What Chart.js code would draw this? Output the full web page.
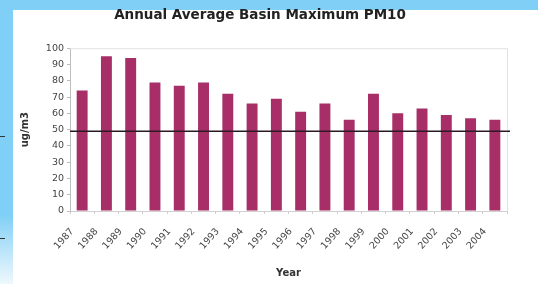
<html>
<head>
  <title>Annual Average Basin Maximum PM10</title>
  <script src="https://cdn.jsdelivr.net/npm/chart.js@4.4.1/dist/chart.umd.min.js"></script>
  <style>
    html, body {
      margin: 0;
      padding: 0;
      width: 538px;
      height: 284px;
      overflow: hidden;
      background: #80cff6;
    }
    .panel {
      position: absolute;
      left: 13px;
      top: 10px;
      width: 525px;
      height: 274px;
      background: #ffffff;
    }
    .corner {
      position: absolute;
      left: 0px;
      top: 215px;
      width: 13px;
      height: 69px;
      background: linear-gradient(180deg, #80cff6 0%, #b9e4f9 50%, #eef8fd 100%);
    }
    .dash {
      position: absolute;
      left: 0px;
      width: 5px;
      height: 1px;
      background: #333;
    }
    .wrap {
      position: absolute;
      left: 0px;
      top: 0px;
      width: 538px;
      height: 284px;
    }
  </style>
</head>
<body>
  <div class="panel"></div>
  <div class="corner"></div>
  <div class="dash" style="top:136px"></div>
  <div class="dash" style="top:238px"></div>
  <div class="wrap"><canvas id="myChart" width="538" height="284"></canvas></div>

  <script type="text/javascript">
    var years = ['1987', '1988', '1989', '1990', '1991', '1992', '1993', '1994', '1995',
                 '1996', '1997', '1998', '1999', '2000', '2001', '2002', '2003', '2004'];
    var pm10 = [74, 95, 94, 79, 77, 79, 72, 66, 69, 61, 66, 56, 72, 60, 63, 59, 57, 56];
    var standard = 49;
    var yTicks = [0, 10, 20, 30, 40, 50, 60, 70, 80, 90, 100];

    // horizontal standard line + light frame around the plot
    var extras = {
      id: 'extras',
      afterDatasetsDraw: function(chart) {
        var ctx = chart.ctx;
        var area = chart.chartArea;
        var y = chart.scales.y.getPixelForValue(standard);
        ctx.save();
        ctx.strokeStyle = '#e2e2e2';
        ctx.lineWidth = 1;
        ctx.beginPath();
        ctx.moveTo(area.left, area.top + 0.5);
        ctx.lineTo(area.right + 0.5, area.top + 0.5);
        ctx.lineTo(area.right + 0.5, area.bottom);
        ctx.stroke();
        ctx.strokeStyle = '#2a1a22';
        ctx.lineWidth = 1.5;
        ctx.beginPath();
        ctx.moveTo(area.left, y);
        ctx.lineTo(area.right + 3, y);
        ctx.stroke();
        ctx.restore();
      }
    };

    var ctx = document.getElementById('myChart').getContext('2d');
    var myChart = new Chart(ctx, {
      type: 'bar',
      data: {
        labels: years,
        datasets: [{
          data: pm10,
          backgroundColor: '#a82e68',
          borderWidth: 0,
          barPercentage: 0.9,
          categoryPercentage: 0.5
        }]
      },
      plugins: [extras],
      options: {
        responsive: false,
        animation: false,
        devicePixelRatio: 1,
        layout: { padding: { left: 13, right: 31, top: 7, bottom: 5 } },
        plugins: {
          legend: { display: false },
          tooltip: { enabled: false },
          title: {
            display: true,
            text: 'Annual Average Basin Maximum PM10',
            color: '#222',
            font: { family: 'DejaVu Sans', size: 13.5, weight: 'bold' },
            padding: { top: 0, bottom: 25 }
          }
        },
        scales: {
          x: {
            afterFit: function(scale) { scale.height = 68; },
            grid: {
              display: true,
              drawOnChartArea: false,
              offset: true,
              tickLength: 3,
              color: '#cfcfcf'
            },
            border: { color: '#d0d0d0' },
            ticks: {
              color: '#444',
              maxRotation: 48,
              minRotation: 48,
              padding: 12,
              labelOffset: -10,
              font: { family: 'DejaVu Sans', size: 9.5 }
            },
            title: {
              display: true,
              text: 'Year',
              color: '#333',
              font: { family: 'DejaVu Sans', size: 10, weight: 'bold' },
              padding: { top: 4, bottom: 0 }
            }
          },
          y: {
            min: 0,
            max: 100,
            afterFit: function(scale) { scale.width = 57; },
            afterBuildTicks: function(scale) {
              scale.ticks = yTicks.map(function(v) { return { value: v }; });
            },
            grid: {
              display: true,
              drawOnChartArea: false,
              tickLength: 3,
              color: '#bdbdbd'
            },
            border: { color: '#bdbdbd' },
            ticks: {
              color: '#444',
              padding: 3,
              font: { family: 'DejaVu Sans', size: 9.5 }
            },
            title: {
              display: true,
              text: 'ug/m3',
              color: '#333',
              font: { family: 'DejaVu Sans', size: 10, weight: 'bold' },
              padding: { top: 6, bottom: 10 }
            }
          }
        }
      }
    });
  </script>
</body>
</html>
